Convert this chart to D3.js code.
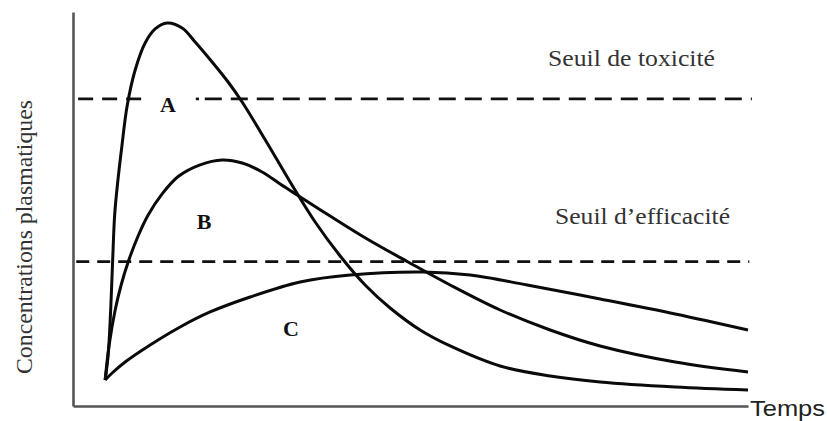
<!DOCTYPE html>
<html>
<head>
<meta charset="utf-8">
<script src="https://cdn.jsdelivr.net/npm/d3@7"></script>
<style>
  html, body { margin: 0; padding: 0; background: #fff; }
  svg { display: block; }
</style>
</head>
<body>
<svg id="chart" width="827" height="421"></svg>
<script>
// ---- Data (arbitrary time / concentration units) ----
const curveNames = ["A", "B", "C"];

const timeA = [0, 0.47, 0.86, 1.17, 1.48, 1.94, 2.57, 3.42, 4.67, 6.22, 7.78, 9.64, 11.98, 14.0, 16.64, 19.13, 21.31, 25.2, 28.78, 32.67, 36.56, 40.44, 44.33, 49.0, 53.67, 61.44, 69.22, 77.0, 88.67, 100];
const concA = [7.06, 13.85, 26.07, 39.65, 51.87, 60.56, 70.07, 81.48, 91.25, 98.59, 102.39, 104.02, 102.66, 98.86, 93.43, 87.99, 82.56, 71.43, 60.84, 49.97, 40.74, 32.86, 26.62, 20.64, 16.30, 10.86, 8.15, 6.52, 5.16, 4.35];

const timeB = [0, 0.62, 1.56, 2.49, 3.58, 5.13, 6.69, 8.87, 11.36, 14.78, 18.2, 21.31, 24.42, 27.22, 29.87, 35.0, 40.76, 47.13, 53.67, 61.44, 69.22, 77.0, 88.67, 100];
const concB = [7.06, 16.57, 26.07, 32.86, 39.11, 46.17, 51.87, 57.6, 62.33, 65.5, 66.81, 66.0, 63.55, 60.29, 57.31, 51.6, 45.36, 39.11, 32.86, 26.07, 20.64, 16.30, 11.95, 9.23];

const timeC = [0, 1.09, 3.11, 7.0, 11.67, 16.33, 22.56, 30.33, 38.11, 49.47, 56.78, 65.65, 77.0, 88.67, 100];
const concC = [7.06, 8.96, 11.95, 16.57, 21.46, 25.53, 29.60, 33.68, 35.58, 36.39, 35.58, 32.86, 29.06, 24.99, 20.64];

const thresholdNames = ["Seuil de toxicité", "Seuil d’efficacité"];
const thresholdValues = [83.4, 39.2];

const xLabel = "Temps";
const yLabel = "Concentrations plasmatiques";

// ---- Scales ----
const svg = d3.select("#chart");
const x = d3.scaleLinear().domain([-5, 100]).range([73, 748]);
const y = d3.scaleLinear().domain([0, 107]).range([406, 12]);

// ---- Axes (no ticks, only the lines) ----
svg.append("g")
  .attr("transform", `translate(0,${y(0)})`)
  .call(d3.axisBottom(x).ticks(0).tickSizeOuter(0))
  .call(g => g.select(".domain").attr("stroke", "#555").attr("stroke-width", 2.6));
svg.append("g")
  .attr("transform", `translate(${x(-5)},0)`)
  .call(d3.axisLeft(y).ticks(0).tickSizeOuter(0))
  .call(g => g.select(".domain").attr("stroke", "#555").attr("stroke-width", 2.6));

// ---- Threshold dashed lines ----
const tox = thresholdValues[0], eff = thresholdValues[1];
const dashSegs = [
  { x1: -4.2, x2: 5.6, v: tox, dash: "15,9" },
  { x1: 14.1, x2: 14.6, v: tox, dash: null },
  { x1: 15.5, x2: 100.6, v: tox, dash: "17,9" },
  { x1: -4.5, x2: 100.2, v: eff, dash: "13,8" }
];
svg.append("g").selectAll("line").data(dashSegs).join("line")
  .attr("x1", d => x(d.x1)).attr("x2", d => x(d.x2))
  .attr("y1", d => y(d.v)).attr("y2", d => y(d.v))
  .attr("stroke", "#111").attr("stroke-width", 2.6)
  .attr("stroke-dasharray", d => d.dash);

// ---- Curves ----
const series = [
  timeA.map((t, i) => [t, concA[i]]),
  timeB.map((t, i) => [t, concB[i]]),
  timeC.map((t, i) => [t, concC[i]])
];
const line = d3.line().x(d => x(d[0])).y(d => y(d[1])).curve(d3.curveCatmullRom.alpha(0.5));
svg.append("g").selectAll("path").data(series).join("path")
  .attr("d", line)
  .attr("fill", "none")
  .attr("stroke", "#0a0a0a")
  .attr("stroke-width", 3)
  .attr("stroke-linejoin", "round");

// ---- Curve labels ----
const labelPos = [[168, 112], [204, 229], [291, 336]];
svg.append("g").selectAll("text").data(curveNames).join("text")
  .attr("x", (d, i) => labelPos[i][0])
  .attr("y", (d, i) => labelPos[i][1])
  .attr("text-anchor", "middle")
  .attr("font-family", "'Liberation Serif', 'Times New Roman', serif")
  .attr("font-weight", "bold")
  .attr("font-size", 22)
  .attr("fill", "#111")
  .text(d => d);

// ---- Threshold labels ----
const thrLabelPos = [[548, 66, 167], [555, 224, 175]];
svg.append("g").selectAll("text").data(thresholdNames).join("text")
  .attr("x", (d, i) => thrLabelPos[i][0])
  .attr("y", (d, i) => thrLabelPos[i][1])
  .attr("textLength", (d, i) => thrLabelPos[i][2])
  .attr("lengthAdjust", "spacingAndGlyphs")
  .attr("font-family", "'Liberation Serif', 'Times New Roman', serif")
  .attr("font-size", 23)
  .attr("fill", "#333")
  .text(d => d);

// ---- Axis titles ----
svg.append("text")
  .attr("transform", "translate(32,237) rotate(-90)")
  .attr("text-anchor", "middle")
  .attr("textLength", 274)
  .attr("lengthAdjust", "spacingAndGlyphs")
  .attr("font-family", "'Liberation Serif', 'Times New Roman', serif")
  .attr("font-size", 23)
  .attr("fill", "#333")
  .text(yLabel);

svg.append("text")
  .attr("x", 750)
  .attr("y", 416)
  .attr("textLength", 75)
  .attr("lengthAdjust", "spacingAndGlyphs")
  .attr("font-family", "'Liberation Sans', Arial, sans-serif")
  .attr("font-size", 22)
  .attr("fill", "#222")
  .text(xLabel);
</script>
</body>
</html>
